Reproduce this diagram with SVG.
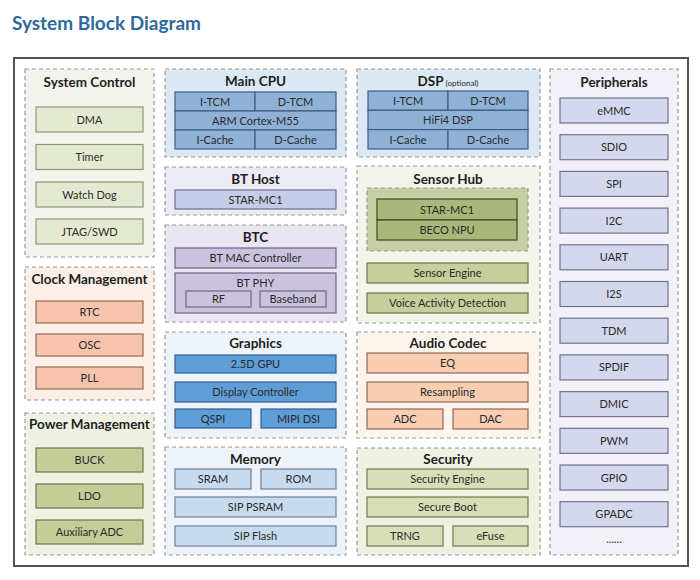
<svg xmlns="http://www.w3.org/2000/svg" width="700" height="580" viewBox="0 0 700 580">
<style>
.pn{stroke:#9a9a9a;stroke-width:1.2;stroke-dasharray:4 3}
.t{font-family:Lato,"Liberation Sans",sans-serif;font-weight:bold;font-size:13.5px;fill:#1e1e1e;text-anchor:middle}
.l{font-family:Lato,"Liberation Sans",sans-serif;font-size:11px;fill:#2a2a2a;text-anchor:middle}
.sc{fill:#e4ead2;stroke:#8c9478;stroke-width:1.2}
.ck{fill:#f6c3ad;stroke:#9a6c58;stroke-width:1.2}
.pw{fill:#c3cd97;stroke:#6e7650;stroke-width:1.2}
.cpu{fill:#8fb1d6;stroke:#3f5d80;stroke-width:1.2}
.pe{fill:#d4d8ec;stroke:#6f7490;stroke-width:1.2}
.bh{fill:#c6cce8;stroke:#6c7090;stroke-width:1.2}
.bt{fill:#cbc2de;stroke:#6e6486;stroke-width:1.2}
.sh{fill:#a9b87a;stroke:#3f4a22;stroke-width:1.2}
.se{fill:#c6cf9c;stroke:#6a7448;stroke-width:1.2}
.gr{fill:#5e9dd6;stroke:#2f5f8f;stroke-width:1.2}
.me{fill:#c7daee;stroke:#6b819a;stroke-width:1.2}
.au{fill:#f8cdb0;stroke:#8e6a50;stroke-width:1.2}
.sy{fill:#d7deb8;stroke:#707a55;stroke-width:1.2}
</style>
<rect width="700" height="580" fill="#ffffff"/>
<text x="12" y="30" font-family="Lato,'Liberation Sans',sans-serif" font-weight="bold" font-size="19" fill="#2e6aa0">System Block Diagram</text>
<rect x="14" y="58" width="674" height="508" fill="#ffffff" stroke="#555555" stroke-width="2"/>
<g id="connectors"/>

<g id="system-control">
<rect class="pn" x="25" y="69" width="129" height="188" fill="#f4f4ee"/>
<text class="t" x="89.5" y="87">System Control</text>
<rect class="sc" x="36" y="107" width="107" height="25"/><text class="l" x="89.5" y="123.5">DMA</text>
<rect class="sc" x="36" y="144.5" width="107" height="25"/><text class="l" x="89.5" y="161">Timer</text>
<rect class="sc" x="36" y="182" width="107" height="25"/><text class="l" x="89.5" y="198.5">Watch Dog</text>
<rect class="sc" x="36" y="219" width="107" height="25"/><text class="l" x="89.5" y="235.5">JTAG/SWD</text>
</g>

<g id="clock-management">
<rect class="pn" x="25" y="267" width="129" height="133" fill="#fbefe7"/>
<text class="t" x="89.5" y="284">Clock Management</text>
<rect class="ck" x="36" y="301" width="107" height="22"/><text class="l" x="89.5" y="316">RTC</text>
<rect class="ck" x="36" y="334" width="107" height="22"/><text class="l" x="89.5" y="349">OSC</text>
<rect class="ck" x="36" y="367" width="107" height="22"/><text class="l" x="89.5" y="382">PLL</text>
</g>

<g id="power-management">
<rect class="pn" x="25" y="413" width="129" height="142" fill="#eff1e3"/>
<text class="t" x="89.5" y="429">Power Management</text>
<rect class="pw" x="36" y="448" width="107" height="24"/><text class="l" x="89.5" y="464">BUCK</text>
<rect class="pw" x="36" y="484" width="107" height="24"/><text class="l" x="89.5" y="500">LDO</text>
<rect class="pw" x="36" y="520" width="107" height="24"/><text class="l" x="89.5" y="536">Auxiliary ADC</text>
</g>

<g id="main-cpu">
<rect class="pn" x="165" y="69" width="181" height="88" fill="#dce8f3"/>
<text class="t" x="255.5" y="86">Main CPU</text>
<rect class="cpu" x="175" y="92" width="80" height="19"/><text class="l" x="215" y="105.5">I-TCM</text>
<rect class="cpu" x="255" y="92" width="81" height="19"/><text class="l" x="295.5" y="105.5">D-TCM</text>
<rect class="cpu" x="175" y="111" width="161" height="19"/><text class="l" x="255.5" y="124.5">ARM Cortex-M55</text>
<rect class="cpu" x="175" y="130" width="80" height="19"/><text class="l" x="215" y="143.5">I-Cache</text>
<rect class="cpu" x="255" y="130" width="81" height="19"/><text class="l" x="295.5" y="143.5">D-Cache</text>
</g>

<g id="dsp">
<rect class="pn" x="357" y="69" width="183" height="88" fill="#dce8f3"/>
<text x="448" y="86" text-anchor="middle" font-family="Lato,'Liberation Sans',sans-serif" fill="#1e1e1e"><tspan font-weight="bold" font-size="13.5">DSP</tspan><tspan font-size="8" dx="2">(optional)</tspan></text>
<rect class="cpu" x="368" y="91" width="80" height="19.3"/><text class="l" x="408" y="104.5">I-TCM</text>
<rect class="cpu" x="448" y="91" width="80" height="19.3"/><text class="l" x="488" y="104.5">D-TCM</text>
<rect class="cpu" x="368" y="110.3" width="160" height="19.3"/><text class="l" x="448" y="124">HiFi4 DSP</text>
<rect class="cpu" x="368" y="129.6" width="80" height="19.4"/><text class="l" x="408" y="143.5">I-Cache</text>
<rect class="cpu" x="448" y="129.6" width="80" height="19.4"/><text class="l" x="488" y="143.5">D-Cache</text>
</g>

<g id="peripherals">
<rect class="pn" x="550" y="69" width="128" height="486" fill="#f1f1f7"/>
<text class="t" x="614" y="87">Peripherals</text>
<rect class="pe" x="560" y="98" width="108" height="25"/><text class="l" x="614" y="114.5">eMMC</text>
<rect class="pe" x="560" y="134.7" width="108" height="25"/><text class="l" x="614" y="151.2">SDIO</text>
<rect class="pe" x="560" y="171.4" width="108" height="25"/><text class="l" x="614" y="187.9">SPI</text>
<rect class="pe" x="560" y="208.1" width="108" height="25"/><text class="l" x="614" y="224.6">I2C</text>
<rect class="pe" x="560" y="244.8" width="108" height="25"/><text class="l" x="614" y="261.3">UART</text>
<rect class="pe" x="560" y="281.5" width="108" height="25"/><text class="l" x="614" y="298">I2S</text>
<rect class="pe" x="560" y="318.2" width="108" height="25"/><text class="l" x="614" y="334.7">TDM</text>
<rect class="pe" x="560" y="354.9" width="108" height="25"/><text class="l" x="614" y="371.4">SPDIF</text>
<rect class="pe" x="560" y="391.6" width="108" height="25"/><text class="l" x="614" y="408.1">DMIC</text>
<rect class="pe" x="560" y="428.3" width="108" height="25"/><text class="l" x="614" y="444.8">PWM</text>
<rect class="pe" x="560" y="465" width="108" height="25"/><text class="l" x="614" y="481.5">GPIO</text>
<rect class="pe" x="560" y="501.7" width="108" height="25"/><text class="l" x="614" y="518.2">GPADC</text>
<text class="l" x="614" y="543">......</text>
</g>

<g id="bt-host">
<rect class="pn" x="165" y="167" width="181" height="48" fill="#ebebf5"/>
<text class="t" x="255.5" y="184">BT Host</text>
<rect class="bh" x="175" y="190" width="161" height="19"/><text class="l" x="255.5" y="203.5">STAR-MC1</text>
</g>

<g id="btc">
<rect class="pn" x="165" y="225" width="181" height="97" fill="#e9e6f1"/>
<text class="t" x="255.5" y="242">BTC</text>
<rect class="bt" x="175" y="248" width="161" height="20"/><text class="l" x="255.5" y="262">BT MAC Controller</text>
<rect class="bt" x="175" y="273" width="161" height="40"/><text class="l" x="255.5" y="287">BT PHY</text>
<rect class="bt" x="186" y="291" width="65" height="16"/><text class="l" x="218.5" y="303">RF</text>
<rect class="bt" x="260" y="291" width="66" height="16"/><text class="l" x="293" y="303">Baseband</text>
</g>

<g id="sensor-hub">
<rect class="pn" x="357" y="166" width="183" height="157" fill="#f3f4ec"/>
<text class="t" x="448" y="184">Sensor Hub</text>
<rect class="pn" x="367" y="188" width="161" height="63" fill="#c6cea4"/>
<rect class="sh" x="377" y="199" width="140" height="21"/><text class="l" x="447" y="213.5">STAR-MC1</text>
<rect class="sh" x="377" y="220" width="140" height="20"/><text class="l" x="447" y="234">BECO NPU</text>
<rect class="se" x="367" y="263" width="161" height="20"/><text class="l" x="447.5" y="277">Sensor Engine</text>
<rect class="se" x="367" y="293" width="161" height="20"/><text class="l" x="447.5" y="307">Voice Activity Detection</text>
</g>

<g id="graphics">
<rect class="pn" x="165" y="332" width="181" height="106" fill="#eef3f9"/>
<text class="t" x="255.5" y="348">Graphics</text>
<rect class="gr" x="175" y="355" width="161" height="18"/><text class="l" x="255.5" y="368">2.5D GPU</text>
<rect class="gr" x="175" y="382" width="161" height="20"/><text class="l" x="255.5" y="396">Display Controller</text>
<rect class="gr" x="175" y="409" width="76" height="19"/><text class="l" x="213" y="422.5">QSPI</text>
<rect class="gr" x="261" y="409" width="75" height="19"/><text class="l" x="298.5" y="422.5">MIPI DSI</text>
</g>

<g id="memory">
<rect class="pn" x="165" y="447" width="181" height="108" fill="#eef3f9"/>
<text class="t" x="255.5" y="464">Memory</text>
<rect class="me" x="175" y="469" width="76" height="20"/><text class="l" x="213" y="483">SRAM</text>
<rect class="me" x="261" y="469" width="75" height="20"/><text class="l" x="298.5" y="483">ROM</text>
<rect class="me" x="175" y="497" width="161" height="20"/><text class="l" x="255.5" y="511">SIP PSRAM</text>
<rect class="me" x="175" y="526" width="161" height="20"/><text class="l" x="255.5" y="540">SIP Flash</text>
</g>

<g id="audio-codec">
<rect class="pn" x="357" y="332" width="183" height="106" fill="#fbf5ed"/>
<text class="t" x="448" y="348">Audio Codec</text>
<rect class="au" x="367" y="353" width="161" height="20"/><text class="l" x="447.5" y="367">EQ</text>
<rect class="au" x="367" y="382" width="161" height="20"/><text class="l" x="447.5" y="396">Resampling</text>
<rect class="au" x="367" y="409" width="76" height="20"/><text class="l" x="405" y="423">ADC</text>
<rect class="au" x="453" y="409" width="75" height="20"/><text class="l" x="490.5" y="423">DAC</text>
</g>

<g id="security">
<rect class="pn" x="357" y="448" width="183" height="107" fill="#eff1e2"/>
<text class="t" x="448" y="464">Security</text>
<rect class="sy" x="367" y="469" width="161" height="20"/><text class="l" x="447.5" y="483">Security Engine</text>
<rect class="sy" x="367" y="497" width="161" height="20"/><text class="l" x="447.5" y="511">Secure Boot</text>
<rect class="sy" x="367" y="526" width="76" height="20"/><text class="l" x="405" y="540">TRNG</text>
<rect class="sy" x="453" y="526" width="75" height="20"/><text class="l" x="490.5" y="540">eFuse</text>
</g>
</svg>
